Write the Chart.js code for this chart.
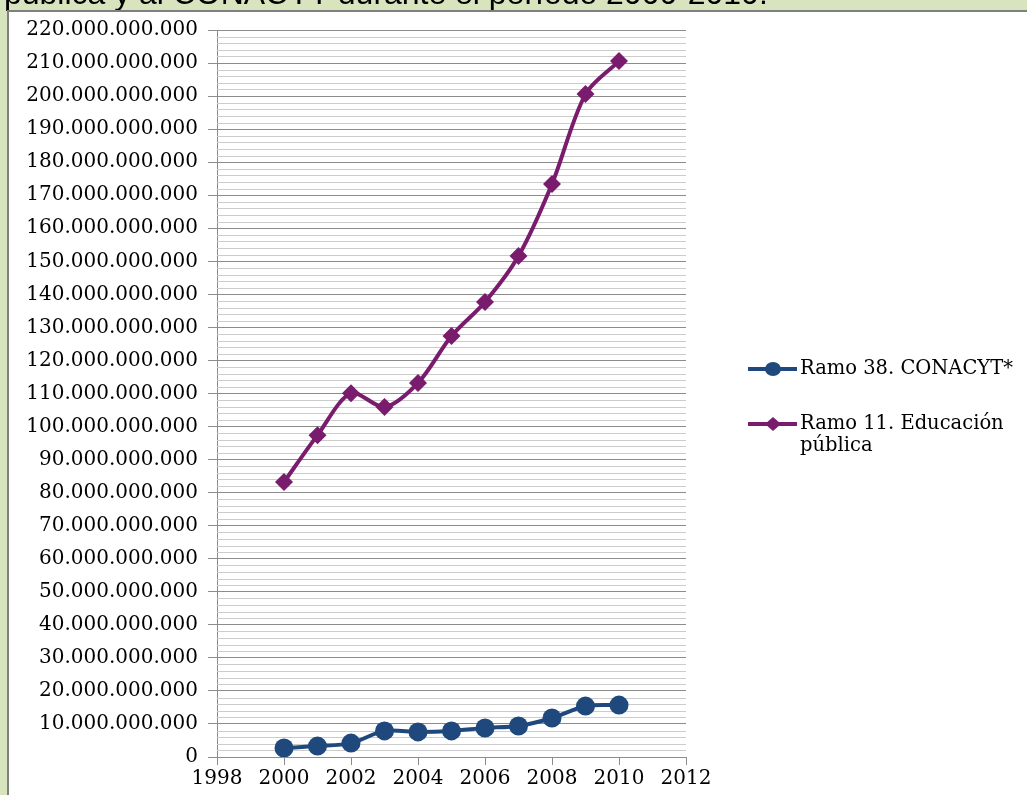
<!DOCTYPE html>
<html>
<head>
<meta charset="utf-8">
<script src="https://cdn.jsdelivr.net/npm/chart.js@4/dist/chart.umd.min.js"></script>
<style>
html,body{margin:0;padding:0;background:#d7e4bd;}
#wrap{position:relative;width:1027px;height:795px;}
</style>
</head>
<body>
<div id="wrap"><canvas id="c" width="1027" height="795"></canvas></div>
<script>
const titleText = 'pública y al CONACYT durante el período 2000-2010.';
const years = [2000, 2001, 2002, 2003, 2004, 2005, 2006, 2007, 2008, 2009, 2010];
const conacyt = [2.7e9, 3.3e9, 4.2e9, 7.9e9, 7.6e9, 7.9e9, 8.8e9, 9.4e9, 11.8e9, 15.4e9, 15.7e9];
const educacion = [83.2e9, 97.4e9, 110.1e9, 105.9e9, 113.2e9, 127.4e9, 137.7e9, 151.6e9, 173.4e9, 200.6e9, 210.6e9];
const seriesNames = ['Ramo 38. CONACYT*', 'Ramo 11. Educación pública'];
const legendLines = [['Ramo 38. CONACYT*'], ['Ramo 11. Educación', 'pública']];
const xTicks = [1998, 2000, 2002, 2004, 2006, 2008, 2010, 2012];
const yMax = 220e9, yStep = 10e9, yMinorStep = 2e9;

const FONT = '"DejaVu Serif", "Liberation Serif", serif';

function fmtThousands(v){
  return Math.round(v).toString().replace(/\B(?=(\d{3})+(?!\d))/g, '.');
}

const frame = {
  id: 'frame',
  beforeDraw(chart){
    const ctx = chart.ctx;
    ctx.save();
    ctx.fillStyle = '#d7e4bd';
    ctx.fillRect(0, 0, chart.width, chart.height);
    // clipped title
    let size = 26;
    ctx.font = size + 'px "Liberation Sans", Arial, sans-serif';
    const w = ctx.measureText(titleText).width;
    size = size * 764 / w;
    ctx.font = size + 'px "Liberation Sans", Arial, sans-serif';
    ctx.fillStyle = '#000';
    ctx.textBaseline = 'alphabetic';
    ctx.fillText(titleText, 4, 4);
    // white panel
    ctx.fillStyle = '#ffffff';
    ctx.fillRect(8, 11, chart.width - 8, chart.height - 11);
    ctx.strokeStyle = '#7f7f7f';
    ctx.lineWidth = 2;
    ctx.beginPath();
    ctx.moveTo(8, chart.height);
    ctx.lineTo(8, 11);
    ctx.lineTo(chart.width, 11);
    ctx.stroke();
    ctx.restore();
  },
  beforeDatasetsDraw(chart){
    // minor gridlines
    const ctx = chart.ctx, y = chart.scales.y, a = chart.chartArea;
    ctx.save();
    ctx.lineWidth = 1;
    for (let v = 0; v <= yMax + 1; v += yMinorStep) {
      if (Math.round(v / yMinorStep) % 5 === 0) continue;
      const py = Math.round(y.getPixelForValue(v)) + 0.5;
      ctx.strokeStyle = '#cccccc';
      ctx.beginPath();
      ctx.moveTo(a.left, py);
      ctx.lineTo(a.right, py);
      ctx.stroke();
    }
    ctx.restore();
  },
  afterDraw(chart){
    // legend
    const ctx = chart.ctx;
    const rows = [369, 424];
    ctx.save();
    chart.data.datasets.forEach((ds, i) => {
      const yy = rows[i];
      ctx.strokeStyle = ds.borderColor;
      ctx.lineWidth = 4;
      ctx.beginPath();
      ctx.moveTo(748, yy);
      ctx.lineTo(797, yy);
      ctx.stroke();
      ctx.fillStyle = ds.backgroundColor;
      ctx.beginPath();
      if (ds.pointStyle === 'circle') {
        ctx.ellipse(773, yy, 8, 7, 0, 0, Math.PI * 2);
      } else {
        ctx.moveTo(773, yy - 7); ctx.lineTo(781, yy); ctx.lineTo(773, yy + 7); ctx.lineTo(765, yy);
        ctx.closePath();
      }
      ctx.fill();
      ctx.fillStyle = '#000';
      ctx.font = '19.5px ' + FONT;
      ctx.textBaseline = 'middle';
      legendLines[i].forEach((t, k) => ctx.fillText(t, 800, yy + k * 22));
    });
    ctx.restore();
  }
};

new Chart(document.getElementById('c'), {
  type: 'line',
  data: {
    datasets: [
      {
        label: seriesNames[0],
        data: years.map((x, i) => ({x, y: conacyt[i]})),
        borderColor: '#1f497d', backgroundColor: '#1f497d',
        borderWidth: 4, pointStyle: 'circle', pointRadius: 9.5, pointHoverRadius: 9.5,
        pointBorderWidth: 0, tension: 0.3
      },
      {
        label: seriesNames[1],
        data: years.map((x, i) => ({x, y: educacion[i]})),
        borderColor: '#7a1c6e', backgroundColor: '#7a1c6e',
        borderWidth: 4, pointStyle: 'rectRot', pointRadius: 9, pointHoverRadius: 9,
        pointBorderWidth: 0, tension: 0.3
      }
    ]
  },
  options: {
    responsive: false, animation: false,
    layout: { padding: { left: 10, right: 341, top: 30, bottom: 0 } },
    plugins: { legend: { display: false }, tooltip: { enabled: false }, title: { display: false } },
    scales: {
      x: {
        type: 'linear', min: 1998, max: 2012,
        afterBuildTicks(s){ s.ticks = xTicks.map(v => ({value: v})); },
        afterFit(s){ s.height = 38; },
        ticks: { callback: v => String(v), color: '#000', font: { family: FONT, size: 20 }, padding: 2, maxRotation: 0 },
        grid: { drawOnChartArea: false, drawTicks: true, tickLength: 8, color: '#8c8c8c', lineWidth: 1 },
        border: { color: '#8c8c8c', width: 1 }
      },
      y: {
        min: 0, max: yMax,
        afterFit(s){ s.width = 207; },
        ticks: { stepSize: yStep, callback: v => fmtThousands(v), color: '#000', font: { family: FONT, size: 20 }, padding: 10 },
        grid: { color: '#8c8c8c', lineWidth: 1, tickLength: 9 },
        border: { color: '#8c8c8c', width: 1 }
      }
    }
  },
  plugins: [frame]
});
</script>
</body>
</html>
